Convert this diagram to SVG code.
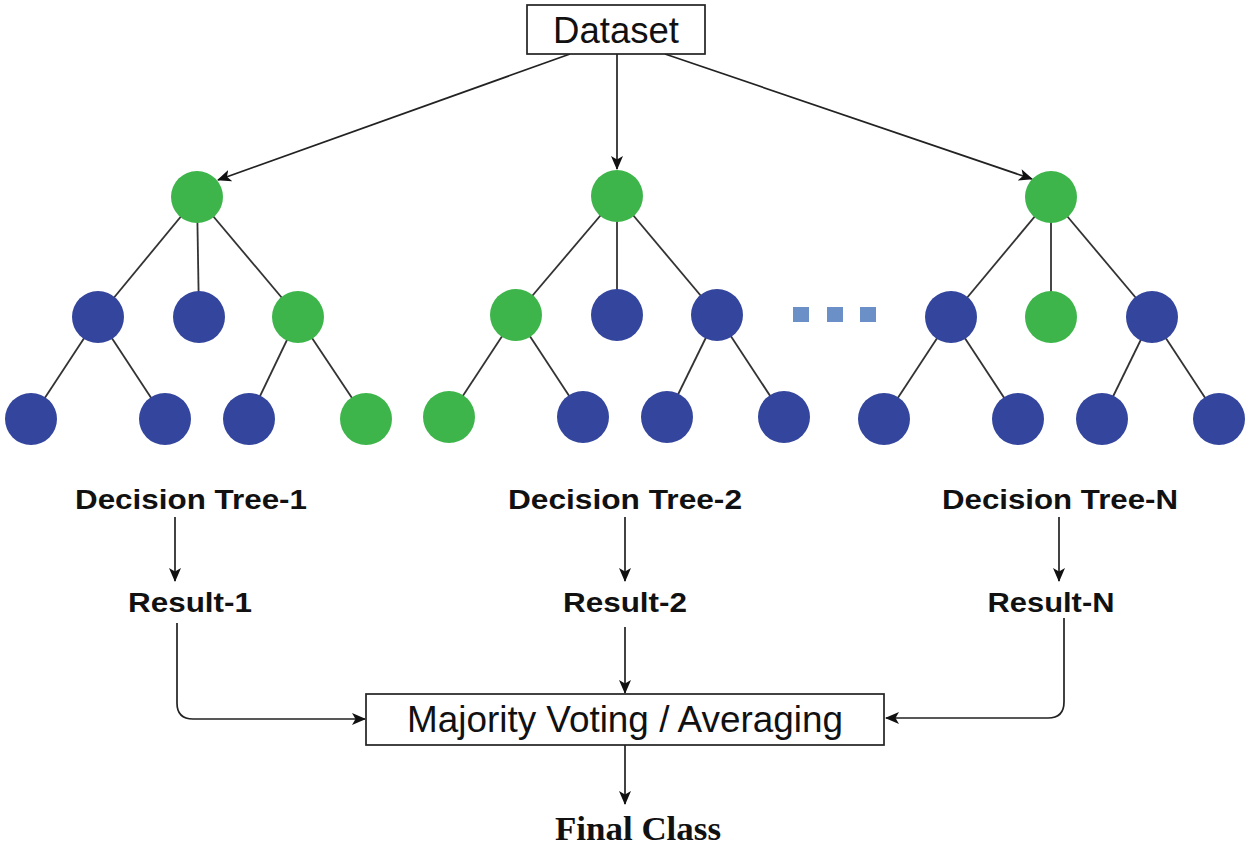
<svg xmlns="http://www.w3.org/2000/svg" width="1250" height="847" viewBox="0 0 1250 847">
<style>
.bg{fill:#ffffff}
.box{fill:#ffffff;stroke:#222;stroke-width:1.7}
.g{fill:#3db54a}
.b{fill:#33459c}
.dot{fill:#6b90c8}
.edge{stroke:#333;stroke-width:1.8;fill:none}
.conn{stroke:#222;stroke-width:1.7;fill:none}
.lbl{font-family:"Liberation Sans",Arial,sans-serif;font-weight:bold;font-size:27px;fill:#111;text-anchor:middle}
.big{font-family:"Liberation Sans",Arial,sans-serif;font-size:36px;fill:#111;text-anchor:middle}
.fin{font-family:"Liberation Serif","Times New Roman",serif;font-weight:bold;font-size:33px;fill:#111;text-anchor:middle}
</style>
<defs>
<marker id="ah" viewBox="0 0 14 12" refX="13" refY="6" markerWidth="14" markerHeight="12" markerUnits="userSpaceOnUse" orient="auto">
<path d="M0,0 L14,6 L0,12 L3.5,6 Z" fill="#111"/>
</marker>
</defs>
<rect class="bg" x="0" y="0" width="1250" height="847"/>

<g id="connectors">
<line class="conn" x1="570" y1="54" x2="218" y2="180" marker-end="url(#ah)"/>
<line class="conn" x1="617" y1="54" x2="617" y2="169" marker-end="url(#ah)"/>
<line class="conn" x1="665" y1="54" x2="1032" y2="179" marker-end="url(#ah)"/>
<line class="conn" x1="175" y1="517" x2="175" y2="581" marker-end="url(#ah)"/>
<line class="conn" x1="625" y1="517" x2="625" y2="581" marker-end="url(#ah)"/>
<line class="conn" x1="1059" y1="517" x2="1059" y2="581" marker-end="url(#ah)"/>
<path class="conn" d="M177,623 L177,703 Q177,719 193,719 L365,719" marker-end="url(#ah)"/>
<line class="conn" x1="625" y1="627" x2="625" y2="693" marker-end="url(#ah)"/>
<path class="conn" d="M1064,618 L1064,702 Q1064,718 1048,718 L886,718" marker-end="url(#ah)"/>
<line class="conn" x1="625" y1="745" x2="625" y2="804" marker-end="url(#ah)"/>
</g>

<g id="dataset">
<rect class="box" x="527" y="5" width="178" height="49"/>
<text class="big" x="616" y="43" textLength="126" lengthAdjust="spacingAndGlyphs">Dataset</text>
</g>

<g id="tree1">
<g class="edge">
<line x1="197" y1="197" x2="98" y2="317"/>
<line x1="197" y1="197" x2="199" y2="317"/>
<line x1="197" y1="197" x2="298" y2="317"/>
<line x1="98" y1="317" x2="31" y2="419"/>
<line x1="98" y1="317" x2="165" y2="419"/>
<line x1="298" y1="317" x2="249" y2="419"/>
<line x1="298" y1="317" x2="366" y2="419"/>
</g>
<circle class="g" cx="197" cy="197" r="26"/>
<circle class="b" cx="98" cy="317" r="26"/>
<circle class="b" cx="199" cy="317" r="26"/>
<circle class="g" cx="298" cy="317" r="26"/>
<circle class="b" cx="31" cy="419" r="26"/>
<circle class="b" cx="165" cy="419" r="26"/>
<circle class="b" cx="249" cy="419" r="26"/>
<circle class="g" cx="366" cy="419" r="26"/>
</g>

<g id="tree2">
<g class="edge">
<line x1="617" y1="196" x2="516" y2="315"/>
<line x1="617" y1="196" x2="617" y2="315"/>
<line x1="617" y1="196" x2="717" y2="315"/>
<line x1="516" y1="315" x2="449" y2="417"/>
<line x1="516" y1="315" x2="583" y2="417"/>
<line x1="717" y1="315" x2="667" y2="417"/>
<line x1="717" y1="315" x2="784" y2="417"/>
</g>
<circle class="g" cx="617" cy="196" r="26"/>
<circle class="g" cx="516" cy="315" r="26"/>
<circle class="b" cx="617" cy="315" r="26"/>
<circle class="b" cx="717" cy="315" r="26"/>
<circle class="g" cx="449" cy="417" r="26"/>
<circle class="b" cx="583" cy="417" r="26"/>
<circle class="b" cx="667" cy="417" r="26"/>
<circle class="b" cx="784" cy="417" r="26"/>
</g>

<g id="ellipsis">
<rect class="dot" x="793" y="307" width="16" height="15"/>
<rect class="dot" x="827" y="307" width="16" height="15"/>
<rect class="dot" x="860" y="307" width="16" height="15"/>
</g>

<g id="treeN">
<g class="edge">
<line x1="1051" y1="197" x2="951" y2="317"/>
<line x1="1051" y1="197" x2="1051" y2="317"/>
<line x1="1051" y1="197" x2="1152" y2="317"/>
<line x1="951" y1="317" x2="884" y2="419"/>
<line x1="951" y1="317" x2="1018" y2="419"/>
<line x1="1152" y1="317" x2="1102" y2="419"/>
<line x1="1152" y1="317" x2="1219" y2="419"/>
</g>
<circle class="g" cx="1051" cy="197" r="26"/>
<circle class="b" cx="951" cy="317" r="26"/>
<circle class="g" cx="1051" cy="317" r="26"/>
<circle class="b" cx="1152" cy="317" r="26"/>
<circle class="b" cx="884" cy="419" r="26"/>
<circle class="b" cx="1018" cy="419" r="26"/>
<circle class="b" cx="1102" cy="419" r="26"/>
<circle class="b" cx="1219" cy="419" r="26"/>
</g>

<g id="label-tree1"><text class="lbl" x="191" y="509" textLength="232" lengthAdjust="spacingAndGlyphs">Decision Tree-1</text></g>
<g id="label-tree2"><text class="lbl" x="625" y="509" textLength="234" lengthAdjust="spacingAndGlyphs">Decision Tree-2</text></g>
<g id="label-treeN"><text class="lbl" x="1060" y="509" textLength="236" lengthAdjust="spacingAndGlyphs">Decision Tree-N</text></g>

<g id="result1"><text class="lbl" x="190" y="612" textLength="124" lengthAdjust="spacingAndGlyphs">Result-1</text></g>
<g id="result2"><text class="lbl" x="625" y="612" textLength="124" lengthAdjust="spacingAndGlyphs">Result-2</text></g>
<g id="resultN"><text class="lbl" x="1051" y="612" textLength="127" lengthAdjust="spacingAndGlyphs">Result-N</text></g>

<g id="voting">
<rect class="box" x="366" y="694" width="518" height="51"/>
<text class="big" x="625" y="732" textLength="436" lengthAdjust="spacingAndGlyphs">Majority Voting / Averaging</text>
</g>

<g id="final">
<text class="fin" x="638" y="840" textLength="166" lengthAdjust="spacingAndGlyphs">Final Class</text>
</g>
</svg>
